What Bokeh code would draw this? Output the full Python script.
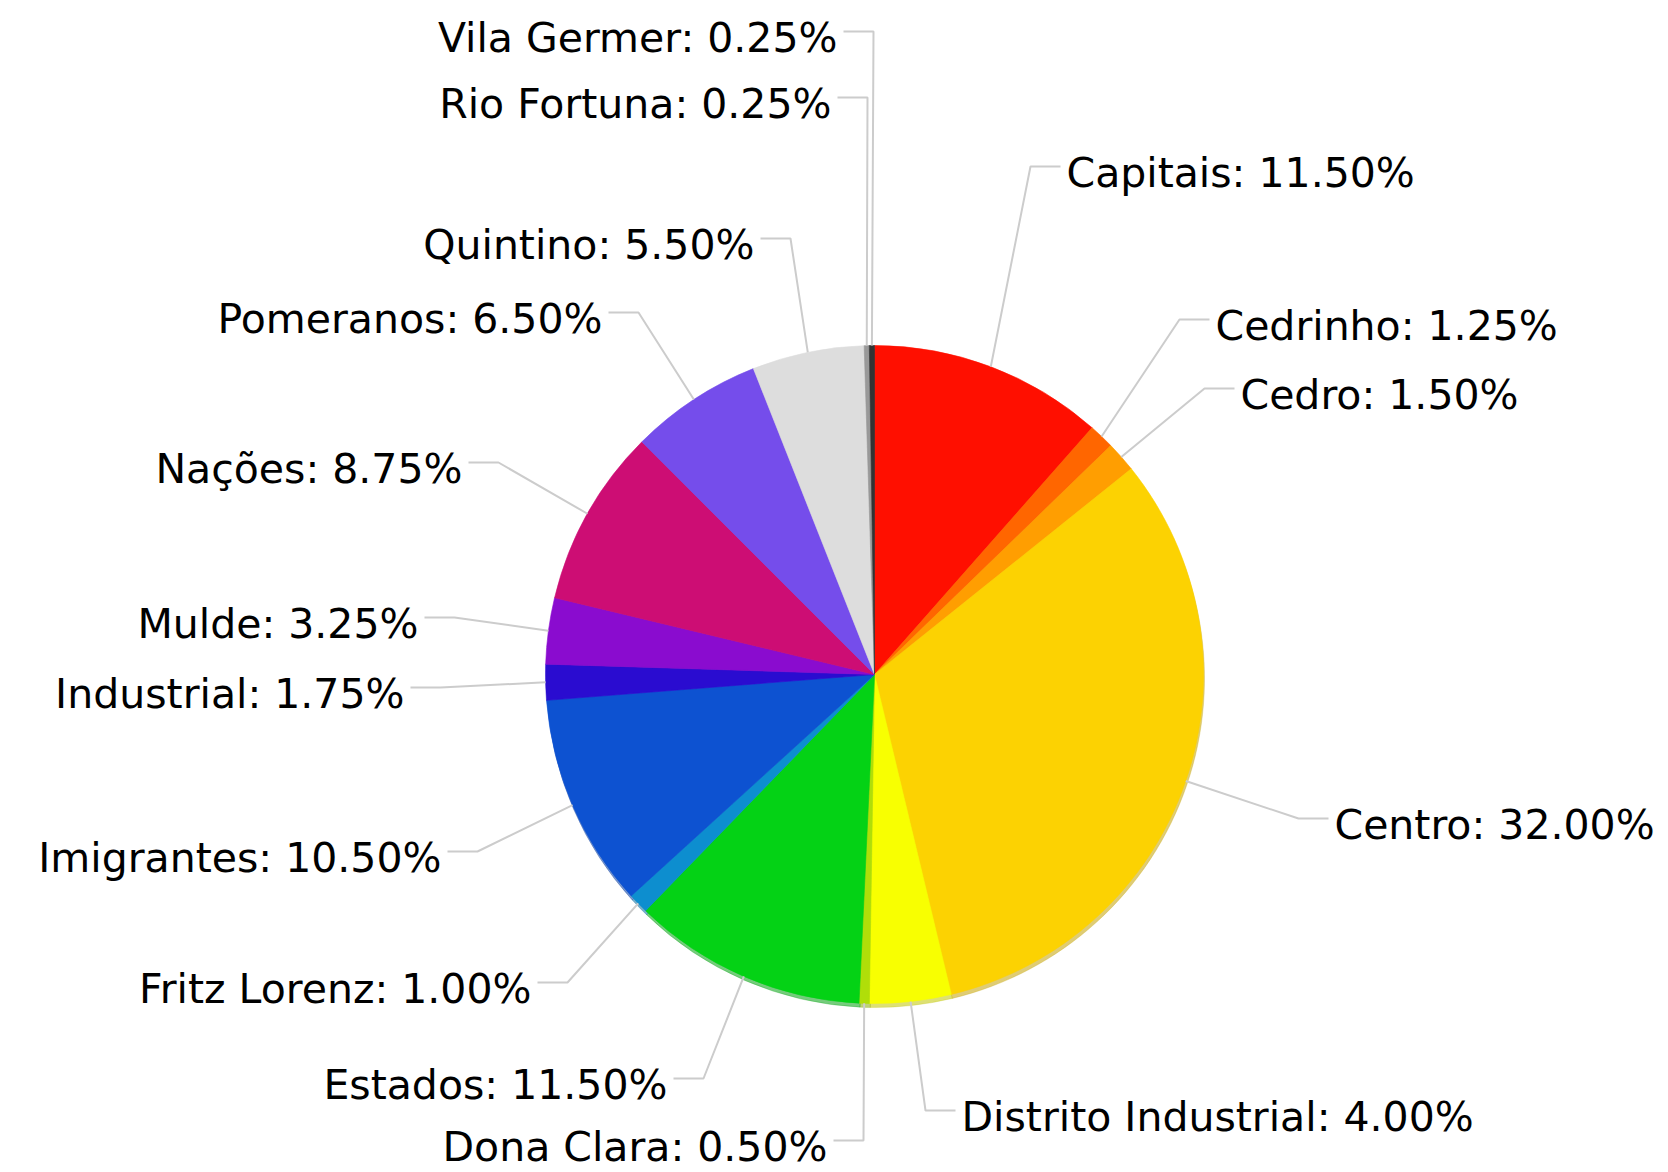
import math
from bokeh.plotting import figure
from bokeh.models import Range1d, ColumnDataSource
from bokeh.core.properties import value
from bokeh.embed import file_html
from bokeh.resources import INLINE

# ---------------- data ----------------
categories = ["Capitais", "Cedrinho", "Cedro", "Centro", "Distrito Industrial",
              "Dona Clara", "Estados", "Fritz Lorenz", "Imigrantes", "Industrial",
              "Mulde", "Nações", "Pomeranos", "Quintino", "Rio Fortuna", "Vila Germer"]
shares = [11.5, 1.25, 1.5, 32.0, 4.0, 0.5, 11.5, 1.0, 10.5, 1.75, 3.25, 8.75,
          6.5, 5.5, 0.25, 0.25]
colors = ["#FF0F00", "#FF6600", "#FF9E01", "#FCD202", "#F8FF01", "#B0DE09",
          "#04D215", "#0D8ECF", "#0D52D1", "#2A0CD0", "#8A0CCF", "#CD0D74",
          "#754DEB", "#DDDDDD", "#999999", "#333333"]

# ---------------- layout ----------------
W, H = 1668, 1172
CX, CY_PAGE, R = 874, 674, 329
# label elbow offsets from the pie centre (px, y downward), as in the reference layout
label_elbows = [(156, -508), (305, -355), (330, -286), (424, 144), (51, 436),
                (-11, 466), (-171, 404), (-307, 308), (-397, 177), (-434, 13),
                (-420, -57), (-376, -212), (-236, -362), (-84, -436), (-7, -577),
                (-1, -643)]
HSEG = 30
GAP = 6
FONT = "DejaVu Sans"
FONT_SIZE = "41px"


def py(page_y):
    return H - page_y


def darker(hex_color, f=0.78):
    r = int(hex_color[1:3], 16); g = int(hex_color[3:5], 16); b = int(hex_color[5:7], 16)
    return "#%02x%02x%02x" % (int(r * f), int(g * f), int(b * f))


total = sum(shares)
starts, ends, mids = [], [], []
c = 0.0
for v in shares:
    a0 = math.pi / 2 - 2 * math.pi * c / total
    c += v
    a1 = math.pi / 2 - 2 * math.pi * c / total
    starts.append(a0); ends.append(a1); mids.append((a0 + a1) / 2)

cy = py(CY_PAGE)

p = figure(width=W, height=H, x_range=Range1d(0, W), y_range=Range1d(0, H),
           output_backend="svg", toolbar_location=None, x_axis_type=None, y_axis_type=None,
           min_border=0, outline_line_color=None, background_fill_color="white")
p.grid.visible = False

# soft shadow rim
shadow = ColumnDataSource(dict(start=starts, end=ends, color=[darker(c_) for c_ in colors]))
p.wedge(x=CX + 1, y=cy - 4, radius=R, start_angle="start", end_angle="end", direction="clock",
        fill_color="color", line_color="color", line_width=0.5, fill_alpha=0.55, line_alpha=0.55,
        source=shadow)

src = ColumnDataSource(dict(start=starts, end=ends, color=colors, name=categories, share=shares))
p.wedge(x=CX, y=cy, radius=R, start_angle="start", end_angle="end", direction="clock",
        fill_color="color", line_color="color", line_width=0.6, source=src)

# leader lines and labels
xs, ys = [], []
lx, ly, ltxt = [], [], []
rx, ry, rtxt = [], [], []
for name, v, m, (dx, dy) in zip(categories, shares, mids, label_elbows):
    ex0 = CX + R * math.cos(m)
    ey0 = cy + R * math.sin(m)
    ex1 = CX + dx
    ey1 = cy - dy
    side = -1 if dx < 0 else 1
    ex2 = ex1 + side * HSEG
    xs.append([ex0, ex1, ex2]); ys.append([ey0, ey1, ey1])
    label = f"{name}: {v:.2f}%"
    tx = ex2 + side * GAP
    ty = ey1 - 6
    if side < 0:
        lx.append(tx); ly.append(ty); ltxt.append(label)
    else:
        rx.append(tx); ry.append(ty); rtxt.append(label)

p.multi_line(xs=xs, ys=ys, line_color="#CCCCCC", line_width=2)

p.text(x=lx, y=ly, text=ltxt, text_align="right", text_baseline="middle",
       text_font=value(FONT), text_font_size=FONT_SIZE, text_color="#000000")
p.text(x=rx, y=ry, text=rtxt, text_align="left", text_baseline="middle",
       text_font=value(FONT), text_font_size=FONT_SIZE, text_color="#000000")

open("out.html", "w").write(file_html(p, INLINE))
